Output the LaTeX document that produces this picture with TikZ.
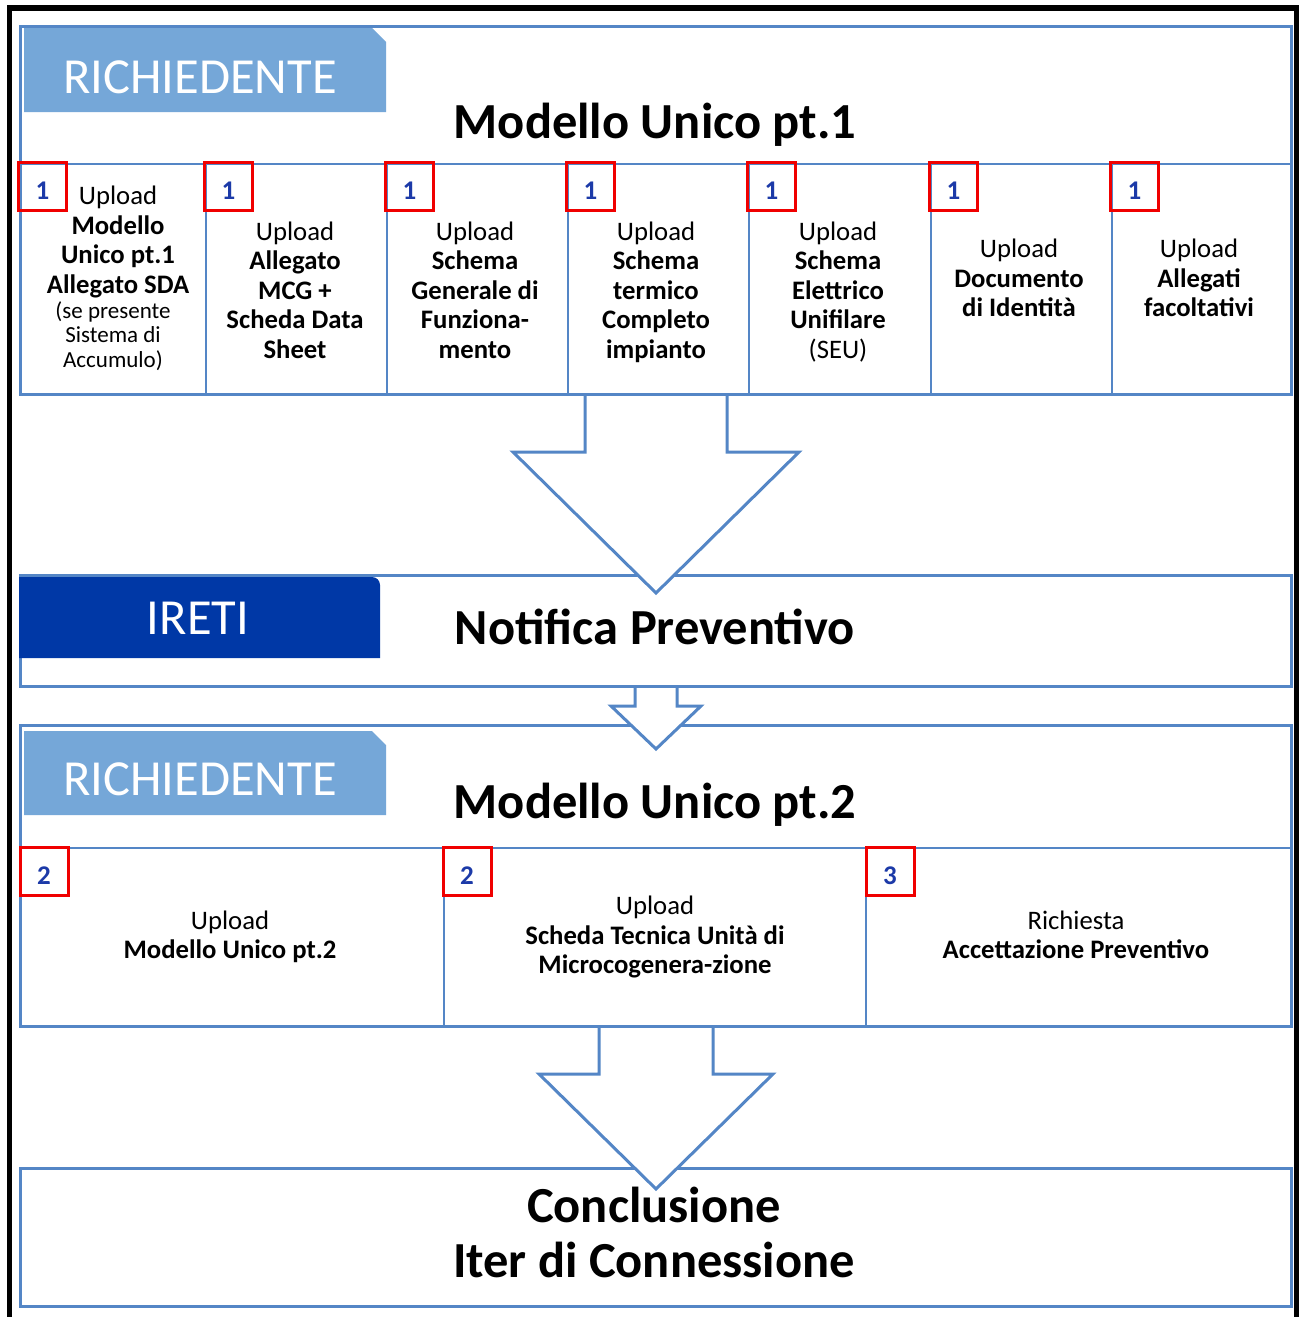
\documentclass[tikz,border=0pt]{standalone}
\usepackage{fontspec}
\setmainfont{Carlito}
\usepackage{tikz}

\definecolor{lineblue}{RGB}{84,134,198}
\definecolor{tabblue}{RGB}{117,167,216}
\definecolor{iretiblue}{RGB}{0,56,166}
\definecolor{numblue}{RGB}{28,58,168}
\definecolor{numred}{RGB}{240,0,0}

\begin{document}
\begin{tikzpicture}[
			x=1pt, y=-1pt,
			stage/.style={draw=lineblue, line width=3pt, anchor=north west, inner sep=0pt},
			cell/.style={draw=lineblue, line width=1.8pt, anchor=north west, inner sep=0pt},
			tablabel/.style={text=white, inner sep=0pt, font=\fontsize{50.5}{56}\selectfont},
			title/.style={inner sep=0pt, align=center, font=\fontsize{50.5}{55}\selectfont\bfseries},
			celltext/.style={inner sep=0pt, align=center, font=\fontsize{26.7}{29.5}\selectfont},
			smalltext/.style={inner sep=0pt, align=center, font=\fontsize{23}{24.5}\selectfont},
			numbox/.style={draw=numred, line width=3pt, minimum size=48pt, inner sep=0pt,
				text height=27pt, text depth=0pt,
				text=numblue, font=\fontsize{27}{30}\selectfont\bfseries},
			blockarrow/.style={draw=lineblue, line width=3pt, fill=white, line join=miter}
			]
			
			\useasboundingbox (0,0) rectangle (1301,1317);
			\fill[white] (0,0) rectangle (1301,1317);
			\draw[line width=5.5pt] (9.5,1340) -- (9.5,8) -- (1296.5,8) -- (1296.5,1340);
			
			% first step: uploads
			\foreach \x/\w [count=\i] in {19/186,205/181,386/181,567/181,748/182,930/181,1111/179}
				\node[cell, minimum width=\w, minimum height=230] (cA\i) at (\x,163) {};
			\node[stage, minimum width=1271, minimum height=368] (stageA) at (19,25) {};
			\fill[tabblue] (24,28) -- (372,28) -- (386,42) -- (386,112) -- (24,112) -- cycle;
			\node[tablabel] (tabA) at (200,77) {RICHIEDENTE};
			
			% second step: IRETI
			\node[stage, minimum width=1271, minimum height=111] (stageB) at (19,574) {};
			\fill[iretiblue] (19,658) -- (19,577) -- (372,577)
				arc[start angle=90, end angle=0, radius=8pt] -- (380,658) -- cycle;
			\node[tablabel] (tabB) at (198,618) {IRETI};
			
			% third step
			\foreach \x/\w [count=\i] in {19/424,443/422,865/425}
				\node[cell, minimum width=\w, minimum height=178] (cC\i) at (\x,847) {};
			\node[stage, minimum width=1271, minimum height=301] (stageC) at (19,724) {};
			\fill[tabblue] (24,731) -- (372,731) -- (386,745) -- (386,815) -- (24,815) -- cycle;
			\node[tablabel] (tabC) at (200,779) {RICHIEDENTE};
			
			% end
			\node[stage, minimum width=1271, minimum height=138] (stageD) at (19,1167) {};
			
			% arrows between the steps
			\draw[blockarrow] (stageA.south) ++(-71,0) -- ++(0,56) -- ++(-72,0) -- ++(143,141)
				-- ++(143,-141) -- ++(-72,0) -- ++(0,-56);
			\draw[blockarrow] (stageB.south) ++(-21,0) -- ++(0,18) -- ++(-24,0) -- ++(45,43)
				-- ++(45,-43) -- ++(-24,0) -- ++(0,-18);
			\draw[blockarrow] (stageC.south) ++(-57,0) -- ++(0,46) -- ++(-60,0) -- ++(117,115)
				-- ++(117,-115) -- ++(-60,0) -- ++(0,-46);
			
			\foreach \x [count=\i] in {42.5,228.5,409.5,590.5,771.5,953.5,1134.5}
				\node[numbox] (nA\i) at (\x,186) {1};
			\node[numbox] (nC1) at (44,871) {2};
			\node[numbox] (nC2) at (467,871) {2};
			\node[numbox] (nC3) at (890,871) {3};
			
			\node[title] (titleA) at (655,125) {Modello Unico pt.1};
			\node[title] (titleB) at (655,627) {Notifica Preventivo};
			\node[title] (titleC) at (655,805) {Modello Unico pt.2};
			\node[title] (titleD) at (654,1232) {Conclusione\\Iter di Connessione};
			
			\node[celltext] (tA1) at (118,242) {Upload\\\textbf{Modello}\\\textbf{Unico pt.1}\\\textbf{Allegato SDA}};
			\node[smalltext] (sA1) at (113,336) {(se presente\\Sistema di\\Accumulo)};
			\node[celltext] (tA2) at (295,290) {Upload\\\textbf{Allegato}\\\textbf{MCG +}\\\textbf{Scheda Data}\\\textbf{Sheet}};
			\node[celltext] (tA3) at (475,290) {Upload\\\textbf{Schema}\\\textbf{Generale di}\\\textbf{Funziona-}\\\textbf{mento}};
			\node[celltext] (tA4) at (656,292) {Upload\\\textbf{Schema}\\\textbf{termico}\\\textbf{Completo}\\\textbf{impianto}};
			\node[celltext] (tA5) at (838,292) {Upload\\\textbf{Schema}\\\textbf{Elettrico}\\\textbf{Unifilare}\\(SEU)};
			\node[celltext] (tA6) at (1019,278) {Upload\\\textbf{Documento}\\\textbf{di Identità}};
			\node[celltext] (tA7) at (1199,278) {Upload\\\textbf{Allegati}\\\textbf{facoltativi}};
			
			\node[celltext] (tC1) at (230,937) {Upload\\\textbf{Modello Unico pt.2}};
			\node[celltext] (tC2) at (655,937) {Upload\\\textbf{Scheda Tecnica Unità di}\\\textbf{Microcogenera-zione}};
			\node[celltext] (tC3) at (1076,935) {Richiesta\\\textbf{Accettazione Preventivo}};
		\end{tikzpicture}
\end{document}
